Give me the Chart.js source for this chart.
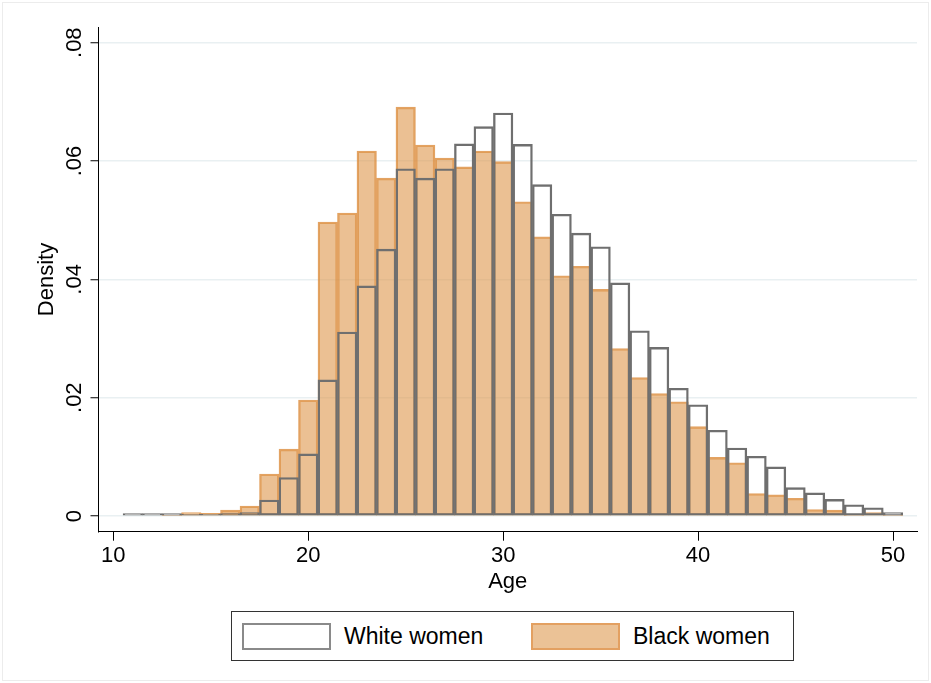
<!DOCTYPE html>
<html>
<head>
<meta charset="utf-8">
<title>Age distribution</title>
<script src="https://cdn.jsdelivr.net/npm/chart.js@4/dist/chart.umd.min.js"></script>
<style>
  html, body { margin: 0; padding: 0; background: #fff; }
  #wrap { position: relative; width: 931px; height: 683px; }
  #frame { position: absolute; left: 2px; top: 2px; width: 925px; height: 677px; border: 1px solid #ececec; pointer-events: none; }
  #legend { position: absolute; left: 231px; top: 611px; width: 561px; height: 48px; border: 1.5px solid #333; background: #fff;
            font-family: "Liberation Sans", Arial, sans-serif; font-size: 23px; color: #000; }
  #legend .sw { position: absolute; top: 11px; width: 85px; height: 23px; }
  #legend .txt { position: absolute; top: 0; line-height: 48px; }
</style>
</head>
<body>
<div id="wrap">
  <canvas id="grafico" width="931" height="683"></canvas>
  <div id="frame"></div>
  <div id="legend"></div>
</div>
<script>
// --- Datos del histograma (centro de cada barra de 1 año) ---
const edades = [11, 12, 13, 14, 15, 16, 17, 18, 19, 20,
                21, 22, 23, 24, 25, 26, 27, 28, 29, 30,
                31, 32, 33, 34, 35, 36, 37, 38, 39, 40,
                41, 42, 43, 44, 45, 46, 47, 48, 49, 50];

const mujeresBlancas = [0.0004, 0.0004, 0.0004, 0.0003, 0.0003, 0.0004, 0.0006, 0.0027, 0.0065, 0.0105,
                        0.0230, 0.0311, 0.0389, 0.0451, 0.0587, 0.0571, 0.0587, 0.0629, 0.0658, 0.0681,
                        0.0628, 0.0560, 0.0510, 0.0478, 0.0455, 0.0394, 0.0313, 0.0285, 0.0216, 0.0188,
                        0.0145, 0.0115, 0.0101, 0.0083, 0.0048, 0.0039, 0.0028, 0.0019, 0.0014, 0.0006];

const mujeresNegras = [0, 0, 0.0001, 0.0006, 0.00045, 0.0010, 0.0017, 0.0071, 0.0113, 0.0196,
                       0.0497, 0.0512, 0.0617, 0.0571, 0.0691, 0.0627, 0.0605, 0.0590, 0.0617, 0.0599,
                       0.0531, 0.0472, 0.0406, 0.0422, 0.0383, 0.0283, 0.0234, 0.0207, 0.0193, 0.0151,
                       0.0099, 0.0090, 0.0038, 0.0036, 0.0030, 0.0011, 0.0010, 0.0001, 0.0006, 0.0001];

const ticksX = [10, 20, 30, 40, 50];
const ticksY = [0, 0.02, 0.04, 0.06, 0.08];
const etiquetasY = ['0', '.02', '.04', '.06', '.08'];

const FUENTE = '"Liberation Sans", Arial, sans-serif';

const series = [
    { label: 'White women', valores: mujeresBlancas, relleno: 'rgba(255, 255, 255, 0)', borde: '#6f6f6f', muestraRelleno: '#fff', muestraBorde: '#8a8a8a' },
    { label: 'Black women', valores: mujeresNegras, relleno: 'rgba(222, 150, 75, 0.6)', borde: 'rgba(220, 140, 60, 0.8)', muestraRelleno: '#ebc296', muestraBorde: '#e3a061' }
];

// Etiquetas del eje Y giradas (Chart.js no rota ticks en ejes verticales)
const etiquetasEjeY = {
    id: 'etiquetasEjeY',
    afterDraw(chart) {
        const escala = chart.scales.y;
        const ctx = chart.ctx;
        ctx.save();
        ctx.font = '22px ' + FUENTE;
        ctx.fillStyle = '#000';
        ctx.textAlign = 'center';
        ctx.textBaseline = 'middle';
        ticksY.forEach((v, i) => {
            ctx.save();
            ctx.translate(escala.right - 24, escala.getPixelForValue(v));
            ctx.rotate(-Math.PI / 2);
            ctx.fillText(etiquetasY[i], 0, 0);
            ctx.restore();
        });
        ctx.restore();
    }
};

const ctx = document.getElementById('grafico').getContext('2d');
new Chart(ctx, {
    type: 'bar',
    data: {
        datasets: series.map(s => ({
            label: s.label,
            data: edades.map((e, i) => ({ x: e, y: s.valores[i] })),
            backgroundColor: s.relleno,
            borderColor: s.borde,
            borderWidth: 1.7,
            borderSkipped: false,
            grouped: false,
            barPercentage: 1,
            categoryPercentage: 1
        }))
    },
    options: {
        responsive: false,
        animation: false,
        layout: { padding: { left: 0, right: 14, top: 27.3, bottom: 89 } },
        plugins: { legend: { display: false }, tooltip: { enabled: false } },
        scales: {
            x: {
                type: 'linear',
                min: 9.24,
                max: 51.23,
                offset: false,
                afterBuildTicks: s => { s.ticks = ticksX.map(v => ({ value: v })); },
                afterFit: s => { s.height = 62.3; },
                ticks: { color: '#000', font: { family: FUENTE, size: 22 }, padding: 2, maxRotation: 0, callback: v => String(v) },
                grid: { offset: false, drawOnChartArea: false, tickLength: 9, tickColor: '#000', tickWidth: 1 },
                border: { display: true, color: '#000', width: 1 },
                title: { display: true, text: 'Age', color: '#000', font: { family: FUENTE, size: 22 }, padding: { top: 0, bottom: -1 } }
            },
            y: {
                min: -0.00265,
                max: 0.0826,
                afterBuildTicks: s => { s.ticks = ticksY.map(v => ({ value: v })); },
                afterFit: s => { s.width = 98.5; },
                ticks: { display: false },
                grid: { color: '#e9f0f2', lineWidth: 1.5, tickLength: 8, tickColor: '#000', tickWidth: 1 },
                border: { display: true, color: '#000', width: 1 },
                title: { display: true, text: 'Density', color: '#000', font: { family: FUENTE, size: 22 }, padding: { top: 34, bottom: 0 } }
            }
        }
    },
    plugins: [etiquetasEjeY]
});

// --- Leyenda con recuadro (estilo Stata) ---
const leyenda = document.getElementById('legend');
const posiciones = [{ sw: 10, txt: 112 }, { sw: 299, txt: 401 }];
series.forEach((s, i) => {
    const sw = document.createElement('span');
    sw.className = 'sw';
    sw.style.left = posiciones[i].sw + 'px';
    sw.style.background = s.muestraRelleno;
    sw.style.border = '2px solid ' + s.muestraBorde;
    leyenda.appendChild(sw);
    const txt = document.createElement('span');
    txt.className = 'txt';
    txt.style.left = posiciones[i].txt + 'px';
    txt.textContent = s.label;
    leyenda.appendChild(txt);
});
</script>
</body>
</html>
